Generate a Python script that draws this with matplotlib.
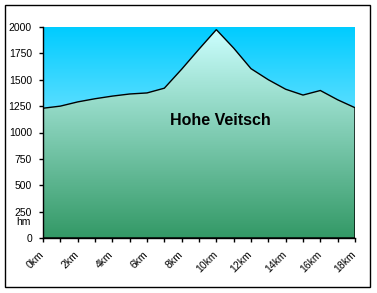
import matplotlib.pyplot as plt
import matplotlib.transforms as mtransforms
import numpy as np
from matplotlib.patches import Polygon, Rectangle

# elevation profile, one value per km
km = list(range(0, 19))
height = [1230, 1250, 1290, 1320, 1345, 1365, 1375, 1420, 1600, 1790,
          1975, 1800, 1605, 1500, 1410, 1355, 1398, 1310, 1235]
tick_labels = [f'{k}km' if k % 2 == 0 else '' for k in km]
yticks = [0, 250, 500, 750, 1000, 1250, 1500, 1750, 2000]
title = 'Hohe Veitsch'

plt.rcParams['font.family'] = ['Liberation Sans', 'DejaVu Sans']

fig = plt.figure(figsize=(3.77, 2.93), dpi=100)
ax = fig.add_axes([43 / 377, 55 / 293, 312 / 377, 211 / 293])

def gradient(top, bottom, n=256):
    top = np.array(top) / 255.0
    bottom = np.array(bottom) / 255.0
    t = np.linspace(0, 1, n)[:, None]
    return (top * (1 - t) + bottom * t)[:, None, :]

# sky background
ax.imshow(gradient((0, 204, 255), (230, 250, 255)), extent=[0, 18, 0, 2000],
          aspect='auto', origin='upper', zorder=0)

# area under the profile, filled with a gradient
verts = [(0, 0)] + list(zip(km, height)) + [(18, 0)]
poly = Polygon(verts, closed=True, facecolor='none', edgecolor='black', lw=1.0, zorder=3)
ax.add_patch(poly)
im = ax.imshow(gradient((204, 255, 255), (51, 153, 102)), extent=[0, 18, 0, max(height)],
               aspect='auto', origin='upper', zorder=2)
im.set_clip_path(poly)

ax.set_xlim(0, 18)
ax.set_ylim(0, 2000)
ax.set_yticks(yticks)
ax.set_xticks(km)
ax.set_xticklabels(tick_labels, rotation=45, ha='right', va='top', rotation_mode='anchor')
ax.tick_params(axis='both', direction='out', length=3, width=1, labelsize=7.5, colors='black')
ax.tick_params(axis='y', pad=5)
ax.tick_params(axis='x', pad=5)
shift = mtransforms.ScaledTranslation(-4 / 100, 0, fig.dpi_scale_trans)
for lab in ax.get_xticklabels():
    lab.set_transform(lab.get_transform() + shift)
for s in ['top', 'right']:
    ax.spines[s].set_visible(False)
for s in ['left', 'bottom']:
    ax.spines[s].set_linewidth(1)
    ax.spines[s].set_zorder(5)

ax.text(0.57, 0.555, title, transform=ax.transAxes, ha='center', va='center',
        fontsize=11.5, fontweight='bold', zorder=6)
fig.text(16 / 377, 1 - 222 / 293, 'hm', fontsize=7.5, ha='left', va='center')

# outer border
fig.patches.append(Rectangle((5 / 377, 1 - 287 / 293), 365 / 377, 282 / 293,
                             transform=fig.transFigure, fill=False, edgecolor='black', lw=1))

fig.savefig('out.png', dpi=100, facecolor='white')
